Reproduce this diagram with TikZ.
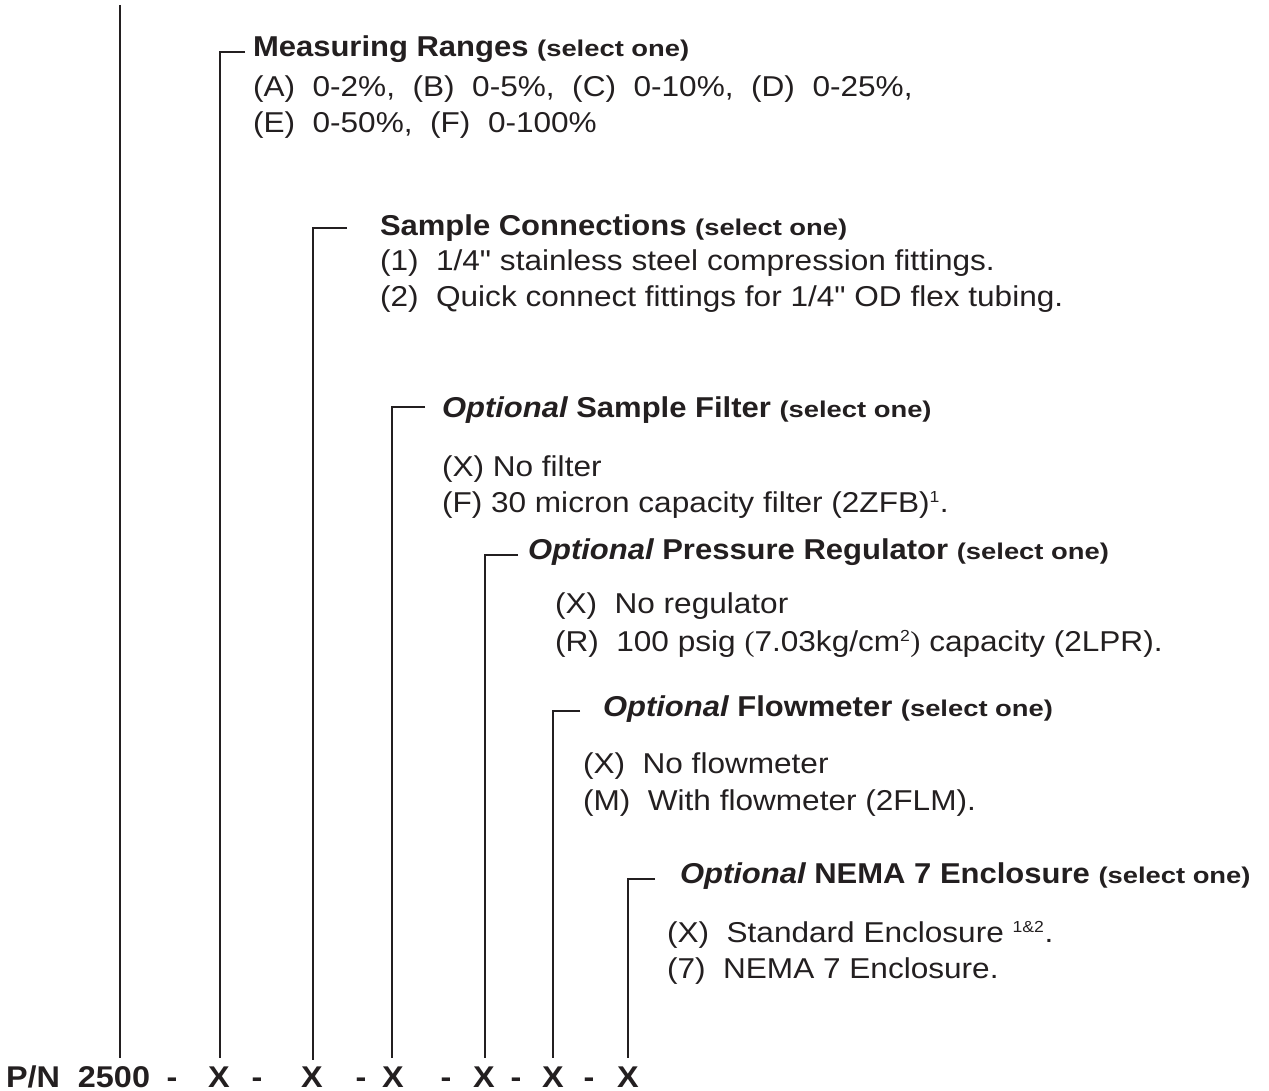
\documentclass[tikz,border=0pt]{standalone}
\usepackage{fontspec}
\setmainfont{Liberation Sans}
\newfontfamily\itemfont[FakeStretch=1.1]{Liberation Sans}
\newfontfamily\headfont[FakeStretch=1.08]{Liberation Sans}
\newfontfamily\selfont[FakeStretch=1.2]{Liberation Sans}
\newfontfamily\parfont[FakeStretch=1.05]{Liberation Serif}
\definecolor{ink}{HTML}{231F20}
\begin{document}
\begin{tikzpicture}[x=1pt,y=-1pt,
  every node/.style={inner sep=0pt,outer sep=0pt,text=ink,anchor=base west},
  head/.style={font=\headfont\fontsize{28.7}{32}\selectfont\bfseries},
  item/.style={font=\itemfont\fontsize{28.7}{32}\selectfont},
  pn/.style={font=\headfont\fontsize{30}{32}\selectfont\bfseries},
  lead/.style={draw=ink,line width=2pt}]
\useasboundingbox (0,0) rectangle (1269,1091);
\newcommand{\sel}{{\selfont\fontsize{22.8}{24}\selectfont\bfseries (select one)}}
\newcommand{\opt}{{\itshape Optional}}
% headings and options
\node[head] (h1) at (253,57) {Measuring Ranges \sel};
\node[item] (a1) at (253,97) {(A)\ \ 0-2\%,\ \ (B)\ \ 0-5\%,\ \ (C)\ \ 0-10\%,\ \ (D)\ \ 0-25\%,};
\node[item] (a2) at (253,133) {(E)\ \ 0-50\%,\ \ (F)\ \ 0-100\%};
\node[head] (h2) at (380,236) {Sample Connections \sel};
\node[item] (b1) at (380,271) {(1)\ \ 1/4" stainless steel compression fittings.};
\node[item] (b2) at (380,307) {(2)\ \ Quick connect fittings for 1/4" OD flex tubing.};
\node[head] (h3) at (442,417) {\opt{} Sample Filter \sel};
\node[item] (c1) at (442,476) {(X) No filter};
\node[item] (c2) at (442,512) {(F) 30 micron capacity filter (2ZFB)\textsuperscript{\fontsize{16}{16}\selectfont 1}.};
\node[head] (h4) at (528,559) {\opt{} Pressure Regulator \sel};
\node[item] (d1) at (555,613) {(X)\ \ No regulator};
\node[item] (d2) at (555,651) {(R)\ \ 100 psig {\parfont(}7.03kg/cm\textsuperscript{\fontsize{16}{16}\selectfont 2}{\parfont)} capacity (2LPR).};
\node[head] (h5) at (603,716) {\opt{} Flowmeter \sel};
\node[item] (e1) at (583,773) {(X)\ \ No flowmeter};
\node[item] (e2) at (583,810) {(M)\ \ With flowmeter (2FLM).};
\node[head] (h6) at (680,883) {\opt{} NEMA 7 Enclosure \sel};
\node[item] (f1) at (667,942) {(X)\ \ Standard Enclosure \textsuperscript{\fontsize{16}{16}\selectfont 1\&2}.};
\node[item] (f2) at (667,978) {(7)\ \ NEMA 7 Enclosure.};
% part number
\node[pn] (pn) at (6,1087) {P/N};
\node[pn,anchor=base] (num) at (114,1087) {2500};
\node[pn,anchor=base] (d0) at (172,1087) {-};
\node[pn,anchor=base] (x1) at (219,1087) {X};
\node[pn,anchor=base] (d1m) at (257,1087) {-};
\node[pn,anchor=base] (x2) at (312,1087) {X};
\node[pn,anchor=base] (d2m) at (361,1087) {-};
\node[pn,anchor=base] (x3) at (393,1087) {X};
\node[pn,anchor=base] (d3m) at (446,1087) {-};
\node[pn,anchor=base] (x4) at (484,1087) {X};
\node[pn,anchor=base] (d4m) at (516,1087) {-};
\node[pn,anchor=base] (x5) at (553,1087) {X};
\node[pn,anchor=base] (d5m) at (589,1087) {-};
\node[pn,anchor=base] (x6) at (628,1087) {X};
% leaders
\coordinate (t0) at (120,5);
\coordinate (b0) at (120,1058);
\coordinate (b1) at (220,1058);
\coordinate (b2) at (313,1060);
\coordinate (b3) at (392,1058);
\coordinate (b4) at (485,1058);
\coordinate (b5) at (553,1058);
\coordinate (b6) at (628,1058);
\draw[lead] (t0) -- (b0);
\draw[lead] (245,52) -- (220,52) -- (b1);
\draw[lead] (347,228) -- (313,228) -- (b2);
\draw[lead] (425,407) -- (392,407) -- (b3);
\draw[lead] (518,555) -- (485,555) -- (b4);
\draw[lead] (580,711) -- (553,711) -- (b5);
\draw[lead] (655,879) -- (628,879) -- (b6);
\end{tikzpicture}
\end{document}
